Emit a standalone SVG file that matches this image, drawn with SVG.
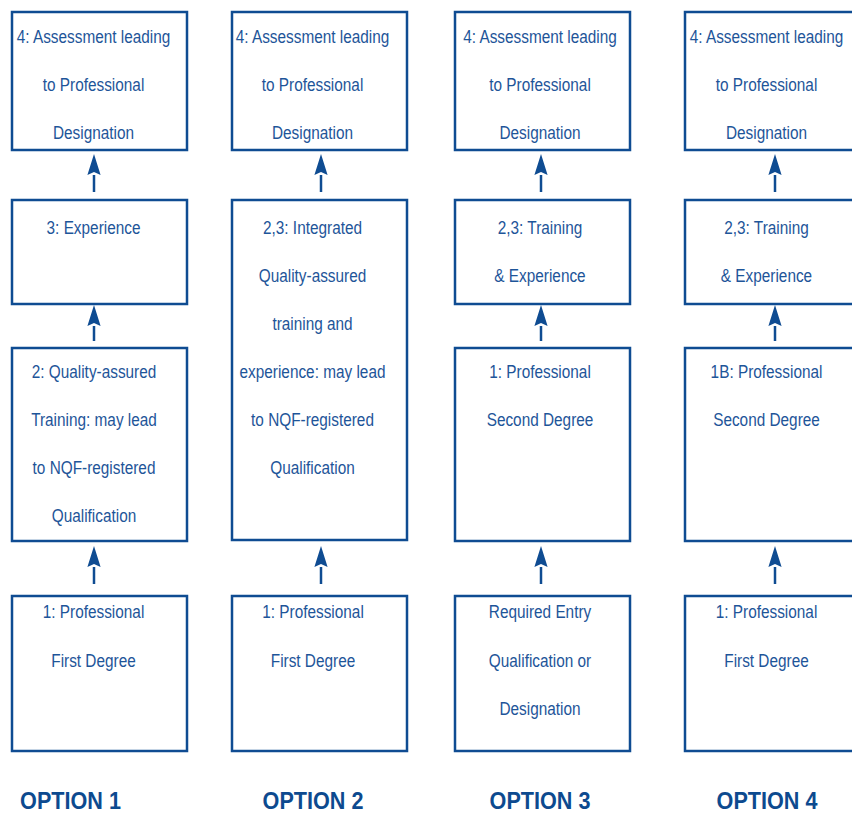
<svg xmlns="http://www.w3.org/2000/svg" width="852" height="814" viewBox="0 0 852 814">
<style>
.box{fill:#ffffff;stroke:#0f4c92;stroke-width:2.5}
.t{font-family:"Liberation Sans",Arial,sans-serif;font-size:18.5px;fill:#1e5599;text-anchor:middle}
.opt{font-family:"Liberation Sans",Arial,sans-serif;font-size:24px;font-weight:bold;fill:#0d4a8f;text-anchor:middle}
.conn{stroke:#0f4c92;stroke-width:2.5;fill:none;marker-end:url(#ah)}
</style>
<defs>
<marker id="ah" markerUnits="userSpaceOnUse" markerWidth="22" markerHeight="14" viewBox="0 -7 22 14" refX="0" refY="0" orient="auto">
<path d="M0,-6.6 L21,0 L0,6.6 L3,0 Z" fill="#0f4c92"/>
</marker>
</defs>
<rect width="852" height="814" fill="#ffffff"/>

<g id="c1r1"><rect class="box" x="12" y="12" width="175" height="138"/>
<g transform="translate(93.5,0) scale(0.83,1)"><text class="t" x="0" y="43">4: Assessment leading</text><text class="t" x="0" y="91">to Professional</text><text class="t" x="0" y="139">Designation</text></g></g>
<g id="c1r2"><rect class="box" x="12" y="200" width="175" height="104"/>
<g transform="translate(93.5,0) scale(0.83,1)"><text class="t" x="0" y="234.5">3: Experience</text></g></g>
<g id="c1r3"><rect class="box" x="12" y="348" width="175" height="193"/>
<g transform="translate(94,0) scale(0.83,1)"><text class="t" x="0" y="378.5">2: Quality-assured</text><text class="t" x="0" y="426.5">Training: may lead</text><text class="t" x="0" y="474.5">to NQF-registered</text><text class="t" x="0" y="522.5">Qualification</text></g></g>
<g id="c1r4"><rect class="box" x="12" y="596" width="175" height="155"/>
<g transform="translate(93.5,0) scale(0.83,1)"><text class="t" x="0" y="618.5">1: Professional</text><text class="t" x="0" y="667.5">First Degree</text></g></g>

<g id="c2r1"><rect class="box" x="232" y="12" width="175" height="138"/>
<g transform="translate(312.5,0) scale(0.83,1)"><text class="t" x="0" y="43">4: Assessment leading</text><text class="t" x="0" y="91">to Professional</text><text class="t" x="0" y="139">Designation</text></g></g>
<g id="c2r2"><rect class="box" x="232" y="200" width="175" height="340"/>
<g transform="translate(312.5,0) scale(0.83,1)"><text class="t" x="0" y="234.5">2,3: Integrated</text><text class="t" x="0" y="282.5">Quality-assured</text><text class="t" x="0" y="330.5">training and</text><text class="t" x="0" y="378.5">experience: may lead</text><text class="t" x="0" y="426.5">to NQF-registered</text><text class="t" x="0" y="474.5">Qualification</text></g></g>
<g id="c2r4"><rect class="box" x="232" y="596" width="175" height="155"/>
<g transform="translate(313,0) scale(0.83,1)"><text class="t" x="0" y="618.5">1: Professional</text><text class="t" x="0" y="667.5">First Degree</text></g></g>

<g id="c3r1"><rect class="box" x="455" y="12" width="175" height="138"/>
<g transform="translate(540,0) scale(0.83,1)"><text class="t" x="0" y="43">4: Assessment leading</text><text class="t" x="0" y="91">to Professional</text><text class="t" x="0" y="139">Designation</text></g></g>
<g id="c3r2"><rect class="box" x="455" y="200" width="175" height="104"/>
<g transform="translate(540,0) scale(0.83,1)"><text class="t" x="0" y="234.5">2,3: Training</text><text class="t" x="0" y="282.5">&amp; Experience</text></g></g>
<g id="c3r3"><rect class="box" x="455" y="348" width="175" height="193"/>
<g transform="translate(540,0) scale(0.83,1)"><text class="t" x="0" y="378.5">1: Professional</text><text class="t" x="0" y="426.5">Second Degree</text></g></g>
<g id="c3r4"><rect class="box" x="455" y="596" width="175" height="155"/>
<g transform="translate(540,0) scale(0.83,1)"><text class="t" x="0" y="618.5">Required Entry</text><text class="t" x="0" y="667.5">Qualification or</text><text class="t" x="0" y="715.5">Designation</text></g></g>

<g id="c4r1"><rect class="box" x="685" y="12" width="175" height="138"/>
<g transform="translate(766.5,0) scale(0.83,1)"><text class="t" x="0" y="43">4: Assessment leading</text><text class="t" x="0" y="91">to Professional</text><text class="t" x="0" y="139">Designation</text></g></g>
<g id="c4r2"><rect class="box" x="685" y="200" width="175" height="104"/>
<g transform="translate(766.5,0) scale(0.83,1)"><text class="t" x="0" y="234.5">2,3: Training</text><text class="t" x="0" y="282.5">&amp; Experience</text></g></g>
<g id="c4r3"><rect class="box" x="685" y="348" width="175" height="193"/>
<g transform="translate(766.5,0) scale(0.83,1)"><text class="t" x="0" y="378.5">1B: Professional</text><text class="t" x="0" y="426.5">Second Degree</text></g></g>
<g id="c4r4"><rect class="box" x="685" y="596" width="175" height="155"/>
<g transform="translate(766.5,0) scale(0.83,1)"><text class="t" x="0" y="618.5">1: Professional</text><text class="t" x="0" y="667.5">First Degree</text></g></g>

<g id="connectors">
<line class="conn" x1="94" y1="192" x2="94" y2="175"/>
<line class="conn" x1="94" y1="341" x2="94" y2="326"/>
<line class="conn" x1="94" y1="584" x2="94" y2="567"/>
<line class="conn" x1="321" y1="192" x2="321" y2="175"/>
<line class="conn" x1="321" y1="584" x2="321" y2="567"/>
<line class="conn" x1="541" y1="192" x2="541" y2="175"/>
<line class="conn" x1="541" y1="341" x2="541" y2="326"/>
<line class="conn" x1="541" y1="584" x2="541" y2="567"/>
<line class="conn" x1="775" y1="192" x2="775" y2="175"/>
<line class="conn" x1="775" y1="341" x2="775" y2="326"/>
<line class="conn" x1="775" y1="584" x2="775" y2="567"/>
</g>

<g id="labels">
<g transform="translate(70.5,809) scale(0.9,1)"><text class="opt" x="0" y="0">OPTION 1</text></g>
<g transform="translate(313,809) scale(0.9,1)"><text class="opt" x="0" y="0">OPTION 2</text></g>
<g transform="translate(540,809) scale(0.9,1)"><text class="opt" x="0" y="0">OPTION 3</text></g>
<g transform="translate(767,809) scale(0.9,1)"><text class="opt" x="0" y="0">OPTION 4</text></g>
</g>
</svg>
